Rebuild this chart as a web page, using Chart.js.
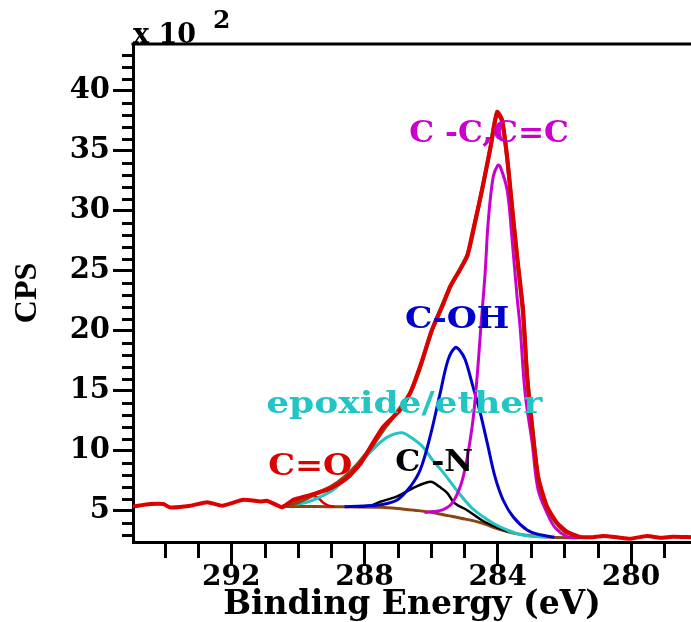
<!DOCTYPE html>
<html>
<head>
<meta charset="utf-8">
<script src="https://cdn.jsdelivr.net/npm/chart.js@4.4.0/dist/chart.umd.min.js"></script>
<style>
  html, body { margin: 0; padding: 0; background: #fff; }
  #wrap { width: 691px; height: 622px; }
</style>
</head>
<body>
<div id="wrap"><canvas id="xps"></canvas></div>
<script>
// C 1s spectrum, binding energy in eV, counts in units of 10^2 CPS

// measured spectrum (red)
const rawEnergy = [294.95, 294.43, 294.04, 293.83, 293.23, 292.72, 292.27, 291.64, 291.13, 290.92, 290.47, 290.14, 289.72, 289.42, 289.12, 288.8, 288.45, 288.1, 287.74, 287.44, 286.93, 286.63, 286.3, 285.97, 285.67, 285.43, 285.15, 284.92, 284.74, 284.47, 284.23, 284.02, 283.87, 283.72, 283.57, 283.42, 283.24, 283.12, 282.97, 282.79, 282.52, 282.22, 281.92, 281.53, 281.2, 280.84, 280.42, 280.03, 279.52, 279.13, 278.74, 278.2];
const rawCps = [5.36, 5.56, 5.56, 5.28, 5.42, 5.72, 5.42, 5.92, 5.78, 5.83, 5.3, 5.92, 6.25, 6.5, 6.75, 7.2, 7.9, 9.0, 10.7, 12.0, 13.4, 14.8, 17.3, 20.1, 22.0, 23.7, 25.0, 26.2, 28.4, 31.75, 35.1, 38.25, 37.6, 34.5, 30.3, 26.2, 21.75, 16.2, 12.0, 7.8, 5.33, 4.0, 3.25, 2.83, 2.8, 2.9, 2.8, 2.67, 2.9, 2.75, 2.83, 2.8];

// fitted envelope (brown)
const envEnergy = [290.47, 290.1, 289.7, 289.4, 289.0, 288.6, 288.2, 287.8, 287.4, 287.0, 286.6, 286.3, 286.0, 285.7, 285.4, 285.1, 284.9, 284.72, 284.47, 284.22, 284.03, 283.88, 283.72, 283.57, 283.42, 283.25, 283.12, 282.97, 282.8, 282.6, 282.35, 282.0, 281.6];
const envCps = [5.35, 5.6, 6.1, 6.5, 7.0, 7.8, 8.9, 10.3, 11.9, 13.3, 15.0, 17.2, 19.9, 21.9, 23.8, 25.3, 26.4, 28.5, 31.8, 35.3, 38.1, 37.5, 34.4, 30.2, 26.1, 21.6, 16.3, 12.1, 8.0, 5.8, 4.4, 3.3, 2.85];

// Shirley background (brown)
const bgEnergy = [290.47, 289.5, 288.5, 287.5, 287.0, 286.5, 286.0, 285.5, 285.1, 284.5, 284.0, 283.5, 283.0, 282.5, 281.9, 281.5];
const bgCps = [5.35, 5.35, 5.33, 5.3, 5.2, 5.05, 4.88, 4.6, 4.38, 4.0, 3.5, 3.12, 2.93, 2.82, 2.76, 2.75];

// components
const ccEnergy = [286.2, 285.64, 285.34, 285.04, 284.77, 284.62, 284.5, 284.38, 284.29, 284.14, 284.0, 283.93, 283.72, 283.57, 283.42, 283.33, 283.18, 282.97, 282.79, 282.52, 282.28, 281.92, 281.6];
const ccCps = [4.85, 5.1, 5.75, 7.8, 12.0, 16.2, 20.6, 24.8, 29.0, 32.8, 33.8, 33.7, 31.75, 27.6, 22.8, 20.3, 14.8, 10.7, 6.75, 4.8, 3.6, 2.85, 2.75];

const cohEnergy = [288.6, 288.04, 287.53, 287.02, 286.63, 286.33, 286.03, 285.73, 285.49, 285.28, 285.15, 284.98, 284.74, 284.53, 284.32, 284.08, 283.84, 283.54, 283.12, 282.73, 282.3];
const cohCps = [5.33, 5.4, 5.5, 5.9, 7.0, 8.4, 11.2, 14.8, 17.6, 18.6, 18.4, 17.6, 15.3, 13.2, 10.7, 7.8, 5.9, 4.5, 3.4, 3.0, 2.8];

const epoEnergy = [290.47, 290.23, 289.9, 289.63, 289.3, 288.94, 288.52, 288.04, 287.53, 287.2, 286.87, 286.6, 286.24, 285.95, 285.64, 285.2, 284.8, 284.44, 284.1, 283.72, 283.3, 282.9, 282.5];
const epoCps = [5.35, 5.5, 5.6, 5.8, 6.2, 6.75, 7.8, 9.25, 10.7, 11.3, 11.5, 11.1, 10.3, 9.2, 8.2, 6.6, 5.3, 4.5, 3.9, 3.4, 3.0, 2.85, 2.8];

const cnEnergy = [288.2, 287.8, 287.53, 287.02, 286.54, 286.2, 285.97, 285.75, 285.52, 285.34, 285.2, 284.92, 284.44, 284.02, 283.7];
const cnCps = [5.33, 5.45, 5.75, 6.2, 6.9, 7.3, 7.4, 7.0, 6.5, 5.75, 5.45, 5.05, 4.15, 3.6, 3.3];

const coEnergy = [290.47, 290.2, 289.93, 289.6, 289.4, 289.27, 289.1, 288.9];
const coCps = [5.35, 5.55, 6.05, 6.25, 6.1, 5.75, 5.45, 5.35];

// axes
const energyTicks = [292, 288, 284, 280];
const energyMinor = [294, 293, 291, 290, 289, 287, 286, 285, 283, 282, 281, 279];
const cpsTicks = [5, 10, 15, 20, 25, 30, 35, 40];
const cpsMinor = [3, 4, 6, 7, 8, 9, 11, 12, 13, 14, 16, 17, 18, 19, 21, 22, 23, 24, 26, 27, 28, 29, 31, 32, 33, 34, 36, 37, 38, 39, 41, 42, 43];

// peak names
const peakNames = ['C -C,C=C', 'C-OH', 'epoxide/ether', 'C=O', 'C -N'];

// where and how each name is written (energy, cps at text centre; colour; horizontal stretch)
const labelLook = {
  'C -C,C=C': { e: 284.26, v: 36.4, color: '#cc00cc', sx: 1.04 },
  'C-OH': { e: 285.22, v: 20.9, color: '#0000cc', sx: 1.15 },
  'epoxide/ether': { e: 286.81, v: 13.8, color: '#22c4c4', sx: 1.2 },
  'C=O': { e: 289.63, v: 8.6, color: '#dd0000', sx: 1.12 },
  'C -N': { e: 285.91, v: 9.0, color: '#000000', sx: 1.05 },
};

const serif = "'DejaVu Serif', serif";

function pts(xs, ys) {
  return xs.map((e, i) => ({ x: e, y: ys[i] }));
}

function line(label, xs, ys, color, width, tension) {
  return {
    label: label,
    data: pts(xs, ys),
    borderColor: color,
    borderWidth: width,
    pointRadius: 0,
    fill: false,
    tension: tension,
  };
}

const decor = {
  id: 'decor',
  afterDraw(chart) {
    const { ctx, chartArea: a, scales: { x, y } } = chart;
    ctx.save();
    ctx.strokeStyle = '#000';
    ctx.lineWidth = 3;
    ctx.beginPath();
    energyMinor.forEach(e => {
      const px = Math.round(x.getPixelForValue(e)) + 0.5;
      ctx.moveTo(px, a.bottom);
      ctx.lineTo(px, a.bottom + 16);
    });
    cpsMinor.forEach(v => {
      const py = Math.round(y.getPixelForValue(v)) + 0.5;
      ctx.moveTo(a.left, py);
      ctx.lineTo(a.left - 11, py);
    });
    // top frame line
    ctx.moveTo(a.left - 1.5, a.top);
    ctx.lineTo(a.right, a.top);
    ctx.stroke();

    // multiplier
    ctx.fillStyle = '#000';
    ctx.textAlign = 'left';
    ctx.textBaseline = 'alphabetic';
    ctx.font = 'bold 27px ' + serif;
    ctx.fillText('x 10', a.left, a.top - 1);
    ctx.font = 'bold 25px ' + serif;
    ctx.fillText('2', a.left + 80, a.top - 16);

    // peak labels
    ctx.textAlign = 'center';
    ctx.textBaseline = 'middle';
    ctx.font = 'bold 30px ' + serif;
    peakNames.forEach(name => {
      const l = labelLook[name];
      ctx.save();
      ctx.translate(x.getPixelForValue(l.e), y.getPixelForValue(l.v));
      ctx.scale(l.sx, 1);
      ctx.fillStyle = l.color;
      ctx.fillText(name, 0, 0);
      ctx.restore();
    });
    ctx.restore();
  }
};

new Chart(document.getElementById('xps').getContext('2d'), {
  type: 'line',
  data: {
    datasets: [
      line('raw', rawEnergy, rawCps, '#dd0000', 4, 0.15),
      line('envelope', envEnergy, envCps, '#8b4513', 4, 0.3),
      line('C-C, C=C', ccEnergy, ccCps, '#cc00cc', 3, 0.35),
      line('C-OH', cohEnergy, cohCps, '#0000cc', 3, 0.35),
      line('epoxide/ether', epoEnergy, epoCps, '#22c4c4', 3, 0.35),
      line('C-N', cnEnergy, cnCps, '#000000', 2.5, 0.35),
      line('C=O', coEnergy, coCps, '#dd0000', 2.5, 0.35),
      line('background', bgEnergy, bgCps, '#8b4513', 3, 0.3),
    ]
  },
  options: {
    responsive: true,
    maintainAspectRatio: false,
    animation: false,
    layout: { padding: { top: 44, left: 0, right: 0, bottom: 0 } },
    plugins: {
      legend: { display: false },
      tooltip: { enabled: false },
    },
    scales: {
      x: {
        type: 'linear',
        reverse: true,
        min: 278.2,
        max: 294.95,
        afterBuildTicks: s => { s.ticks = energyTicks.map(v => ({ value: v })); },
        afterFit: s => { s.height = 80; },
        border: { display: true, color: '#000', width: 3 },
        grid: { drawOnChartArea: false, drawTicks: true, tickLength: 24, tickColor: '#000', tickWidth: 3 },
        ticks: {
          color: '#000',
          padding: -2,
          maxRotation: 0,
          font: { family: serif, weight: 'bold', size: 28, lineHeight: 1 },
        },
        title: {
          display: true,
          text: 'Binding Energy (eV)',
          color: '#000',
          padding: { top: 0, bottom: 0 },
          font: { family: serif, weight: 'bold', size: 33, lineHeight: 1 },
        },
      },
      y: {
        type: 'linear',
        min: 2.4,
        max: 43.9,
        afterBuildTicks: s => { s.ticks = cpsTicks.map(v => ({ value: v })); },
        afterFit: s => { s.width = 133; },
        border: { display: true, color: '#000', width: 3 },
        grid: { drawOnChartArea: false, drawTicks: true, tickLength: 20, tickColor: '#000', tickWidth: 3 },
        ticks: {
          color: '#000',
          padding: 3,
          font: { family: serif, weight: 'bold', size: 29, lineHeight: 1 },
        },
        title: {
          display: true,
          text: 'CPS',
          color: '#000',
          padding: { top: 12, bottom: 0 },
          font: { family: "'Liberation Serif', serif", weight: 'bold', size: 32, lineHeight: 1 },
        },
      },
    },
  },
  plugins: [decor],
});
</script>
</body>
</html>
